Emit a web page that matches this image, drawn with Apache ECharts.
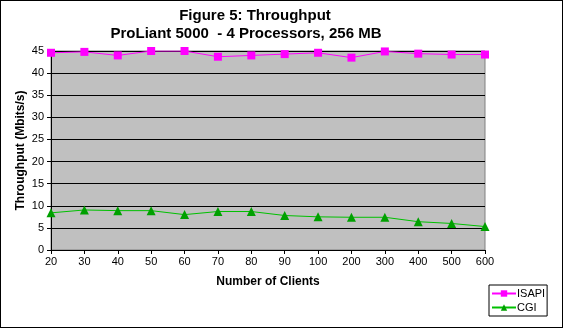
<!DOCTYPE html>
<html><head><meta charset="utf-8">
<script src="https://cdn.jsdelivr.net/npm/echarts@6/dist/echarts.min.js"></script>
<style>html,body{margin:0;padding:0;background:#fff}#c{width:563px;height:328px;box-sizing:border-box;border:1px solid #000}</style>
</head><body><div id="c"></div>
<script>
const categories = ['20','30','40','50','60','70','80','90','100','200','300','400','500','600'];
const isapi = [44.6,44.8,44.0,45.0,45.0,43.7,44.0,44.3,44.6,43.5,44.9,44.4,44.2,44.2];
const cgi = [8.4,9.05,8.9,8.9,8.0,8.7,8.7,7.8,7.5,7.4,7.4,6.4,6.0,5.3];
const titleLines = ['Figure 5: Throughput','ProLiant 5000  - 4 Processors, 256 MB'];
const font = 'Liberation Sans, Arial, sans-serif';
const chart = echarts.init(document.getElementById('c'), null, {renderer:'canvas'});
chart.setOption({
  animation:false,
  textStyle:{fontFamily:font},
  graphic:[
    {type:'text', x:254, y:15, style:{text:titleLines[0], font:'bold 15px '+font, fill:'#000', align:'center', verticalAlign:'middle'}},
    {type:'text', x:245, y:33, style:{text:titleLines[1], font:'bold 15px '+font, fill:'#000', align:'center', verticalAlign:'middle'}}
  ],
  grid:{left:50, right:77, top:50, bottom:77, show:true, backgroundColor:'#c0c0c0', borderColor:'#808080', borderWidth:1},
  legend:{
    orient:'vertical', left:488, top:284, itemWidth:24, itemHeight:8, itemGap:3,
    borderColor:'#000', borderWidth:1, padding:[3,2,3,2],
    textStyle:{fontSize:11, fontFamily:font, color:'#000', padding:[0,0,0,-4]},
    data:['ISAPI','CGI']
  },
  xAxis:{
    type:'category', data:categories, boundaryGap:false,
    name:'Number of Clients', nameLocation:'middle', nameGap:26,
    nameTextStyle:{fontWeight:'bold', fontSize:12, color:'#000'},
    axisLine:{lineStyle:{color:'#000'}},
    axisTick:{show:true, alignWithLabel:true, length:4, lineStyle:{color:'#000'}},
    axisLabel:{fontSize:11, color:'#000', margin:6},
    splitLine:{show:false}
  },
  yAxis:{
    type:'value', min:0, max:45, interval:5,
    name:'Throughput (Mbits/s)', nameLocation:'middle', nameGap:24, nameMoveOverlap:false,
    nameTextStyle:{fontWeight:'bold', fontSize:12, color:'#000'},
    axisLine:{show:true, lineStyle:{color:'#000'}},
    axisTick:{show:true, length:4, lineStyle:{color:'#000'}},
    axisLabel:{fontSize:11, color:'#000', margin:7},
    splitLine:{show:true, lineStyle:{color:'#000', width:1}}
  },
  series:[
    {name:'ISAPI', type:'line', data:isapi, symbol:'rect', symbolSize:8,
     itemStyle:{color:'#ff00ff'}, lineStyle:{color:'#ff00ff', width:1}},
    {name:'CGI', type:'line', data:cgi, symbol:'triangle', symbolSize:9,
     itemStyle:{color:'#00a000'}, lineStyle:{color:'#00c000', width:1}}
  ]
});
</script></body></html>
